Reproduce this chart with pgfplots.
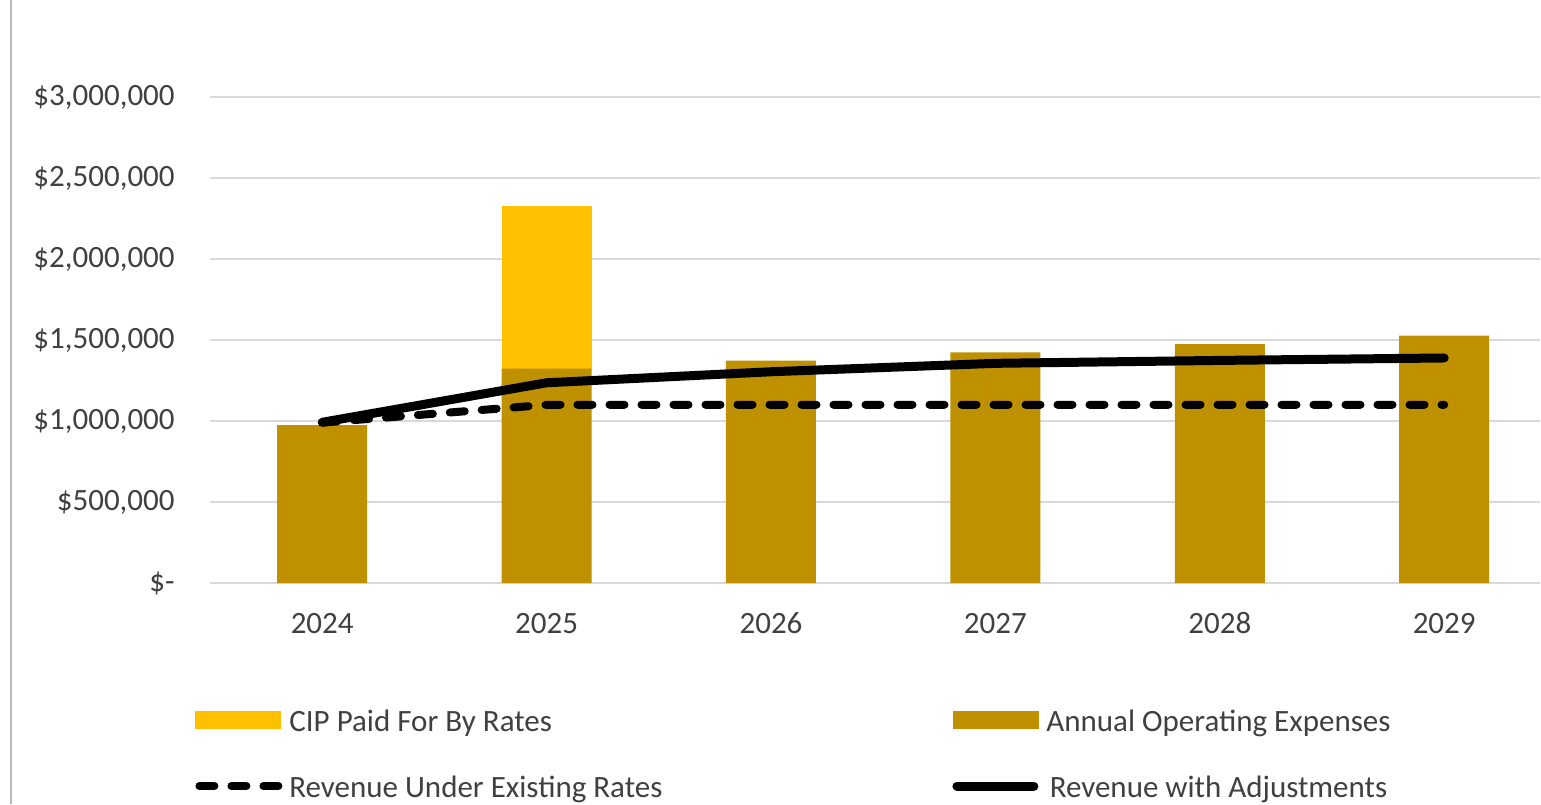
\documentclass[border=0pt]{standalone}
\usepackage{pgfplots}
\pgfplotsset{compat=1.18}
\usepackage{fontspec}
\setmainfont{Carlito}
\definecolor{cipY}{HTML}{FFC000}
\definecolor{opG}{HTML}{BF9000}
\definecolor{gridG}{HTML}{D9D9D9}
\definecolor{txt}{HTML}{404040}
\pgfplotsset{
  common/.style={
    scale only axis, width=665pt, height=243pt,
    at={(0,0)}, anchor=south west,
    xmin=-0.5, xmax=5.427, ymin=0, ymax=3000000,
    axis line style={draw=none},
    major tick length=0pt,
    scaled y ticks=false,
  },
}
\begin{document}
\begin{tikzpicture}
\useasboundingbox (-105pt,-110.5pt) rectangle (665.5pt,291.5pt);
\draw[gray!55, line width=0.8pt] (-99.5pt,-110.5pt) -- (-99.5pt,291.5pt);
\begin{axis}[common,
  ybar stacked, bar width=45pt,
  ymajorgrids, grid style={gridG, line width=1.3pt},
  ytick={0,500000,1000000,1500000,2000000,2500000,3000000},
  yticklabels={{\$-\hspace{7.5pt}},{\$500,000},{\$1,000,000},{\$1,500,000},{\$2,000,000},{\$2,500,000},{\$3,000,000}},
  xtick={0,1,2,3,4,5},
  xticklabels={2024,2025,2026,2027,2028,2029},
  y tick label style={anchor=east, inner sep=0pt, xshift=-17.5pt, font=\fontsize{15.5}{18}\selectfont, text=txt},
  x tick label style={anchor=north, inner sep=0pt, yshift=-15pt, text height=10pt, text depth=0pt, font=\fontsize{15.5}{18}\selectfont, text=txt},
]
\addplot[fill=opG, draw=none] coordinates {(0,974000) (1,1323000) (2,1372000) (3,1424000) (4,1475000) (5,1527000)};
\addplot[fill=cipY, draw=none] coordinates {(0,0) (1,1004000) (2,0) (3,0) (4,0) (5,0)};
\end{axis}
\begin{axis}[common,
  xtick=\empty, ytick=\empty, clip=false,
  legend columns=2,
  legend style={draw=none, fill=none, at={(rel axis cs:0,0)}, anchor=north west,
    xshift=-7.5pt, yshift=-64pt, inner sep=0pt, outer sep=0pt, row sep=22pt,
    font=\fontsize{15.5}{18}\selectfont, text=txt,
    nodes={inner sep=0pt, text height=10pt, text depth=1pt},
    /tikz/every odd column/.append style={column sep=2.5pt}},
]
\addplot[forget plot, black, line width=4pt, line cap=round, dash pattern=on 7.5pt off 8.5pt]
  coordinates {(0,990000) (1,1100000) (2,1100000) (3,1100000) (4,1100000) (5,1100000)};
\addplot[forget plot, black, line width=4.5pt, line cap=round, line join=round]
  coordinates {(0,992000) (1,1236000) (2,1304000) (3,1356000) (4,1374000) (5,1389000)};
\addlegendimage{legend image code/.code={\fill[cipY] (0pt,-3.25pt) rectangle (42.5pt,5.25pt);}}
\addlegendentry{\makebox[331.5pt][l]{CIP Paid For By Rates}}
\addlegendimage{legend image code/.code={\fill[opG] (0pt,-3.25pt) rectangle (42.5pt,5.25pt);}}
\addlegendentry{\hspace{1.5pt}Annual Operating Expenses}
\addlegendimage{legend image code/.code={\draw[black, line width=4pt, line cap=round, dash pattern=on 7.5pt off 8.5pt] (2pt,1pt) -- (42.5pt,1pt);}}
\addlegendentry{\makebox[331.5pt][l]{Revenue Under Existing Rates}}
\addlegendimage{legend image code/.code={\draw[black, line width=4.5pt, line cap=round] (2pt,1pt) -- (40.5pt,1pt);}}
\addlegendentry{\hspace{1.5pt}Revenue with Adjustments}
\end{axis}
\end{tikzpicture}
\end{document}
